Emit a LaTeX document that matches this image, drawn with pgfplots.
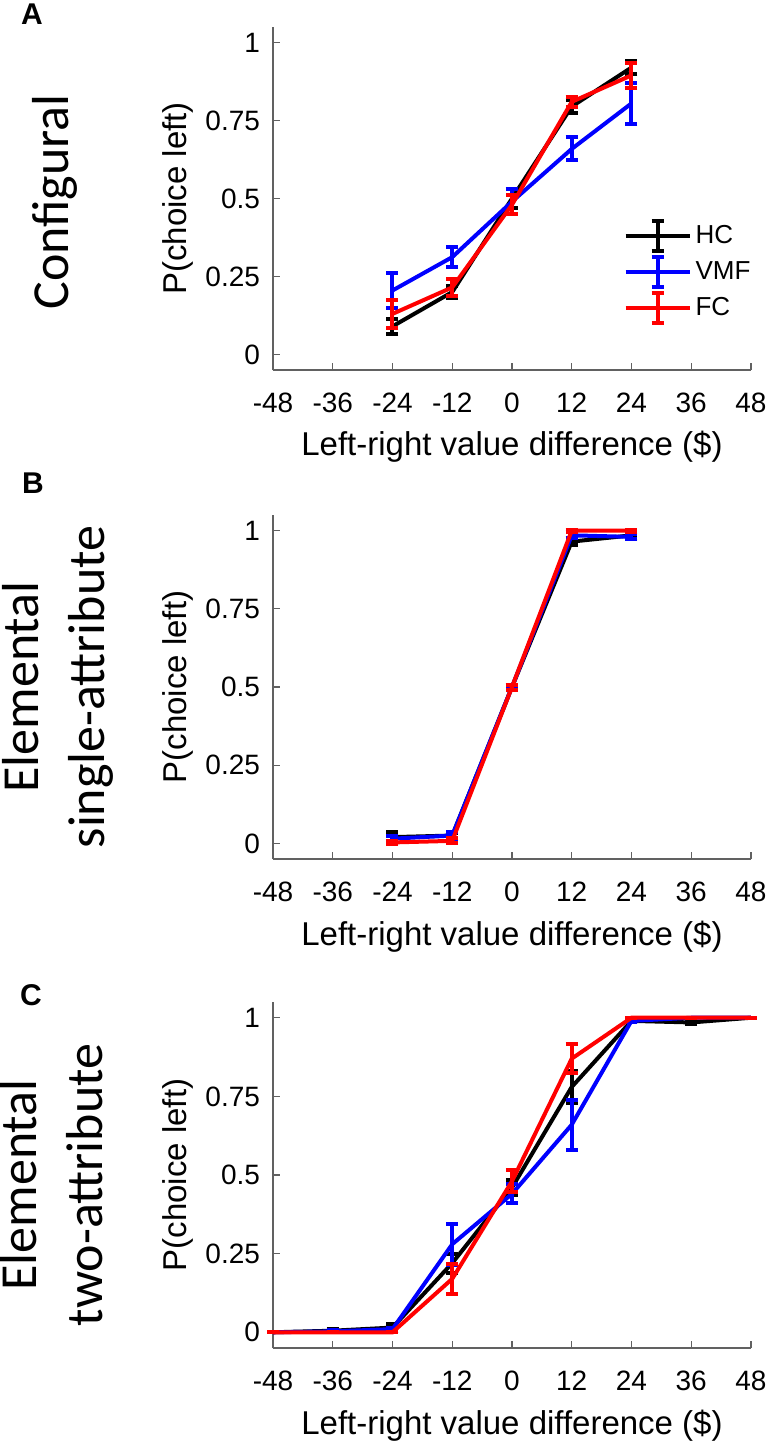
\documentclass[border=0pt]{standalone}
\usepackage{pgfplots}
\pgfplotsset{compat=1.18}
\usepackage{fontspec}
\setmainfont{Liberation Sans}
\newfontfamily\calib{Carlito}
\definecolor{axgray}{rgb}{0.38,0.38,0.38}
\definecolor{mblue}{rgb}{0,0,1}
\definecolor{mred}{rgb}{1,0,0}

\pgfplotsset{
 panel/.style={
  scale only axis, width=239pt,
  xmin=-48,xmax=48, ymin=-0.05, ymax=1.05,
  xtick={-48,-36,...,48}, ytick={0,0.25,0.5,0.75,1},
  yticklabels={0,0.25,0.5,0.75,1},
  axis x line=bottom, axis y line=left,
  axis line style={-, draw=axgray, line width=0.6pt},
  tick style={draw=axgray, line width=0.6pt}, tick align=inside, major tick length=3.5pt,
  ticklabel style={font=\fontsize{14}{16}\selectfont},
  xticklabel style={yshift=-8pt},
  yticklabel style={xshift=-3pt},
  /pgf/number format/assume math mode=true,
  xlabel={Left-right value difference (\$)},
  ylabel={P(choice left)},
  xlabel style={at={(axis description cs:0.5,-0.225)}, anchor=center, font=\fontsize{16.5}{19}\selectfont},
  ylabel style={at={(axis description cs:-0.199,0.5)}, rotate=0, anchor=center, font=\fontsize{16.5}{19}\selectfont},
  every axis plot/.append style={line width=2pt, mark=none,
    error bars/y dir=both, error bars/y explicit,
    error bars/error bar style={line width=2pt},
    error bars/error mark options={rotate=90, line width=2pt, mark size=3pt}},
  clip=false,
 },
 errleg/.style={legend image code/.code={
  \draw[##1, line width=2pt] (0pt,0pt) -- (32pt,0pt);
  \draw[##1, line width=2pt] (16pt,-7.5pt) -- (16pt,7.5pt);
  \draw[##1, line width=2pt] (13pt,-7.5pt) -- (19pt,-7.5pt);
  \draw[##1, line width=2pt] (13pt,7.5pt) -- (19pt,7.5pt);
 }},
}

\begin{document}
\begin{tikzpicture}
\path[use as bounding box] (0pt,0pt) rectangle (385pt,-722.5pt);

% Panel A
\begin{axis}[panel, height=171.5pt, at={(136.5pt,-185pt)}, anchor=south west,
  legend style={at={(0.72,0.452)}, anchor=north west, draw=none, fill=none,
    font=\fontsize{13}{15}\selectfont, legend cell align=left, row sep=1pt}]
\addplot[black, errleg] table[x=x,y=y,y error=e] {
x y e
-24 0.09 0.025
-12 0.20 0.02
0 0.50 0.03
12 0.795 0.02
24 0.92 0.022
};
\addlegendentry{HC}
\addplot[mblue, errleg] table[x=x,y=y,y error=e] {
x y e
-24 0.205 0.055
-12 0.312 0.033
0 0.49 0.04
12 0.659 0.037
24 0.805 0.065
};
\addlegendentry{VMF}
\addplot[mred, errleg] table[x=x,y=y,y error=e] {
x y e
-24 0.13 0.045
-12 0.215 0.028
0 0.48 0.03
12 0.81 0.015
24 0.895 0.04
};
\addlegendentry{FC}
\end{axis}

% Panel B
\begin{axis}[panel, height=172pt, at={(136.5pt,-429.5pt)}, anchor=south west]
\addplot[black] table[x=x,y=y,y error=e] {
x y e
-24 0.02 0.015
-12 0.025 0.008
0 0.5 0.005
12 0.965 0.012
24 0.985 0.008
};
\addplot[mblue] table[x=x,y=y,y error=e] {
x y e
-24 0.015 0.01
-12 0.025 0.01
0 0.5 0.005
12 0.985 0.01
24 0.98 0.008
};
\addplot[mred] table[x=x,y=y,y error=e] {
x y e
-24 0.003 0.004
-12 0.008 0.008
0 0.5 0.008
12 1.0 0.003
24 1.0 0.003
};
\end{axis}

% Panel C
\begin{axis}[panel, height=173pt, at={(136.5pt,-674pt)}, anchor=south west]
\addplot[black] table[x=x,y=y,y error=e] {
x y e
-48 0 0
-36 0.005 0.004
-24 0.015 0.01
-12 0.22 0.03
0 0.46 0.025
12 0.78 0.05
24 0.99 0.005
36 0.985 0.005
48 1 0
};
\addplot[mblue] table[x=x,y=y,y error=e] {
x y e
-48 0 0
-36 0.003 0.003
-24 0.01 0.005
-12 0.28 0.065
0 0.44 0.03
12 0.66 0.08
24 0.99 0.005
36 1 0
48 1 0
};
\addplot[mred] table[x=x,y=y,y error=e] {
x y e
-48 0 0
-36 0 0
-24 0 0
-12 0.17 0.048
0 0.48 0.035
12 0.87 0.045
24 1.0 0
36 1 0
48 1 0
};
\end{axis}

% Row labels
\node[rotate=90, font=\calib\fontsize{26}{33}\selectfont] at (27.5pt,-101pt) {Configural};
\node[rotate=90, font=\calib\fontsize{26}{33}\selectfont, align=center] at (29pt,-343.5pt) {Elemental\\single-attribute};
\node[rotate=90, font=\calib\fontsize{26}{33}\selectfont, align=center] at (26pt,-592.5pt) {Elemental\\two-attribute};

% Panel letters
\node[font=\bfseries\fontsize{15}{18}\selectfont] at (16pt,-7pt) {A};
\node[font=\bfseries\fontsize{15}{18}\selectfont] at (16.5pt,-241.5pt) {B};
\node[font=\bfseries\fontsize{15}{18}\selectfont] at (15.5pt,-497.5pt) {C};
\end{tikzpicture}
\end{document}
